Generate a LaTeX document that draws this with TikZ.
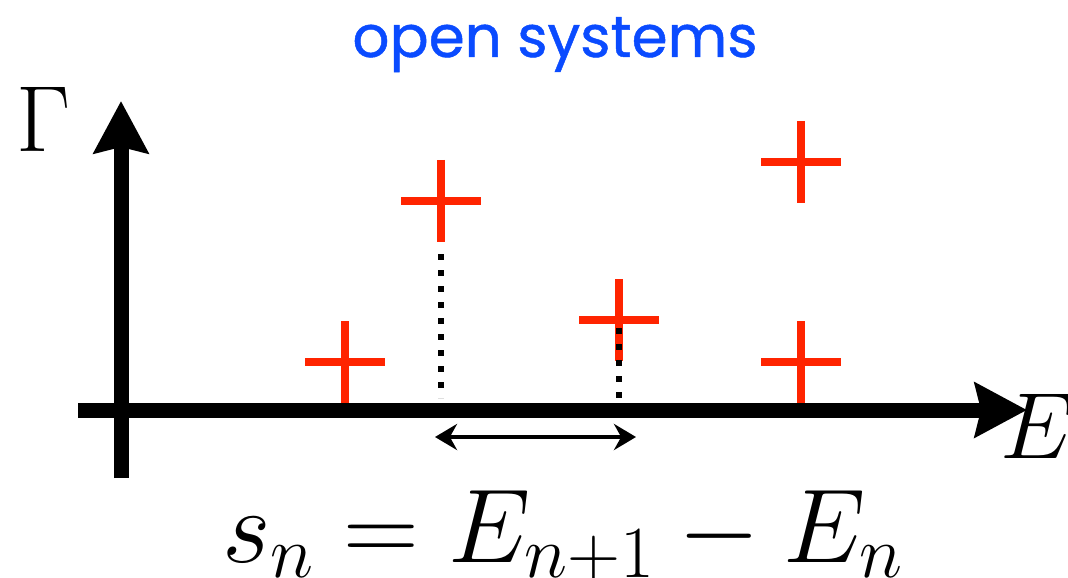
\RequirePackage{fix-cm}
\documentclass[tikz,border=0pt]{standalone}
\usepackage{amsmath}
\usepackage{fontspec}
\newfontfamily\titlefont[FakeBold=0.8]{Poppins}
\usetikzlibrary{arrows.meta}
\definecolor{levelred}{HTML}{FF2400}
\definecolor{titleblue}{HTML}{0A4BFF}
\tikzset{
  axis/.style={line width=7.5pt,-{Stealth[length=26pt,width=27pt,inset=3pt]}},
  levelmark/.style={line width=3.8pt,levelred},
  guide/.style={line width=3.2pt,dash pattern=on 3.2pt off 4.8pt},
  spacing/.style={line width=2pt,{Stealth[length=11pt,width=13pt]}-{Stealth[length=11pt,width=13pt]}},
  pics/plusmark/.style={code={\draw[levelmark] (-40,0) -- (40,0) (0,-41) -- (0,41);}}
}
\begin{document}
\begin{tikzpicture}[x=0.5pt,y=-0.5pt]
  \useasboundingbox (0,0) rectangle (1068,577);
  % axes
  \coordinate (origin) at (121,410);
  \coordinate (eleft) at (78,410);
  \coordinate (eright) at (1027,410);
  \coordinate (gbottom) at (121,478);
  \coordinate (gtop) at (121,101);
  \draw[axis] (eleft) -- (eright);
  \draw[axis] (gbottom) -- (gtop);
  \node[anchor=base,inner sep=0pt,font=\fontsize{47}{50}\selectfont] (gamma) at (44,152) {$\Gamma$};
  \node[anchor=base,inner sep=0pt,font=\fontsize{47}{50}\selectfont] (energy) at (1037,458) {$E$};
  % resonances
  \coordinate (r1) at (345,362);
  \coordinate (r2) at (441,201);
  \coordinate (r3) at (619,320);
  \coordinate (r4) at (801,162);
  \coordinate (r5) at (801,362);
  \foreach \r in {r1,r2,r3,r4,r5}
    \pic at (\r) {plusmark};
  % projections onto the energy axis
  \coordinate (p2top) at (441,254);
  \coordinate (p2foot) at (441,398);
  \coordinate (p3top) at (619,328);
  \coordinate (p3foot) at (619,398);
  \draw[guide] (p2top) -- (p2foot);
  \draw[guide] (p3top) -- (p3foot);
  \coordinate (s1) at (435,437);
  \coordinate (s2) at (636,437);
  \draw[spacing] (s1) -- (s2);
  \node[anchor=base,inner sep=0pt,font=\fontsize{52.5}{56}\selectfont] (spacingeq) at (563,562) {$s_n = E_{n+1} - E_n$};
  \node[anchor=base,inner sep=0pt,text=titleblue,font=\titlefont\fontsize{29}{32}\selectfont] (title) at (555,57) {open systems};
\end{tikzpicture}
\end{document}
